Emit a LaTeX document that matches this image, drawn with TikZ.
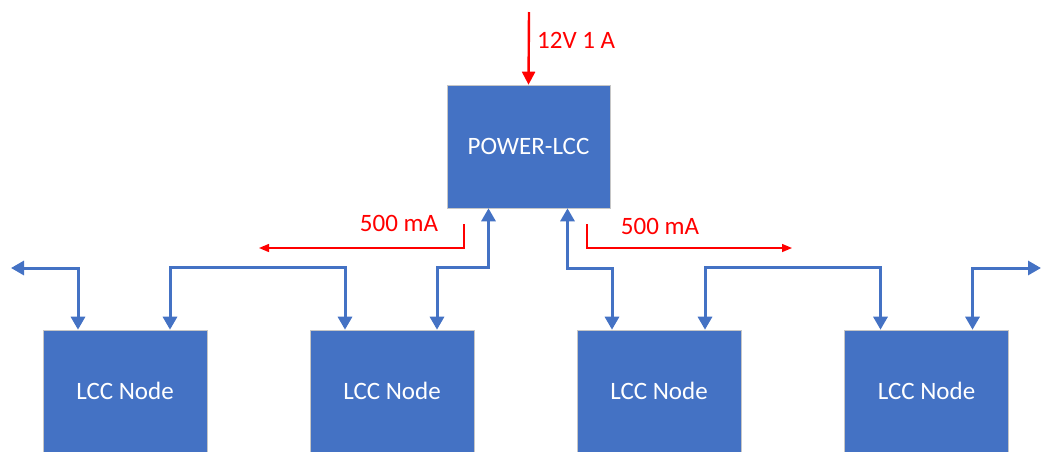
\documentclass[tikz,border=0pt]{standalone}
\usepackage{fontspec}
\setmainfont{Carlito}
\usetikzlibrary{arrows.meta}
\definecolor{lccblue}{HTML}{4472C4}
\definecolor{lccred}{HTML}{FF0000}
\tikzset{
  box/.style={fill=lccblue, draw=gray!45, line width=0.6pt, text=white,
    minimum width=164pt, minimum height=122pt, inner sep=0pt,
    font=\fontsize{25}{30}\selectfont},
  bus/.style={draw=lccblue, line width=3pt,
    {Triangle[width=14pt,length=13pt]}-{Triangle[width=14pt,length=13pt]}},
  supply/.style={draw=lccred, line width=2.4pt, -{Triangle[width=13pt,length=13pt]}},
  cur/.style={draw=lccred, line width=1.4pt, -{Triangle[width=8pt,length=10pt]}},
  curlabel/.style={text=lccred, inner sep=0pt, font=\fontsize{25}{30}\selectfont}
}
\begin{document}
\begin{tikzpicture}[x=1pt,y=-1pt]
\useasboundingbox (0,0) rectangle (1041,451);
% boxes
\node[box, minimum width=163pt, minimum height=123pt] (pw) at (528.5,146.5) {POWER-LCC};
\node[box] (n1) at (125,391) {LCC Node};
\node[box] (n2) at (392,391) {LCC Node};
\node[box] (n3) at (659,391) {LCC Node};
\node[box] (n4) at (926.5,391) {LCC Node};
% supply
\coordinate (vin) at (529,12);
\draw[supply] (vin) -- (pw.north);
\node[curlabel, anchor=west] (vlbl) at (537,40) {12V 1 A};
% bus between nodes
\coordinate (wend) at (11,268);
\coordinate (eend) at (1041,268);
\draw[bus] (wend) -| ([xshift=-47pt]n1.north);
\draw[bus] ([xshift=45pt]n1.north) -- ++(0,-62) -| ([xshift=-47pt]n2.north);
\draw[bus] ([xshift=45pt]n2.north) -- ++(0,-62) -| ([xshift=-40pt]pw.south);
\draw[bus] ([xshift=39pt]pw.south) -- ++(0,60) -| ([xshift=-47pt]n3.north);
\draw[bus] ([xshift=46pt]n3.north) -- ++(0,-62) -| ([xshift=-46pt]n4.north);
\draw[bus] ([xshift=46pt]n4.north) |- (eend);
% current split
\coordinate (curl) at (259,248);
\coordinate (curr) at (792,248);
\draw[cur] ([xshift=-64.5pt]pw.south) ++(0,16) |- (curl);
\draw[cur] ([xshift=58.5pt]pw.south) ++(0,16) |- (curr);
\node[curlabel] (ilbl) at (399,223) {500 mA};
\node[curlabel] (irbl) at (660,226) {500 mA};
\end{tikzpicture}
\end{document}
